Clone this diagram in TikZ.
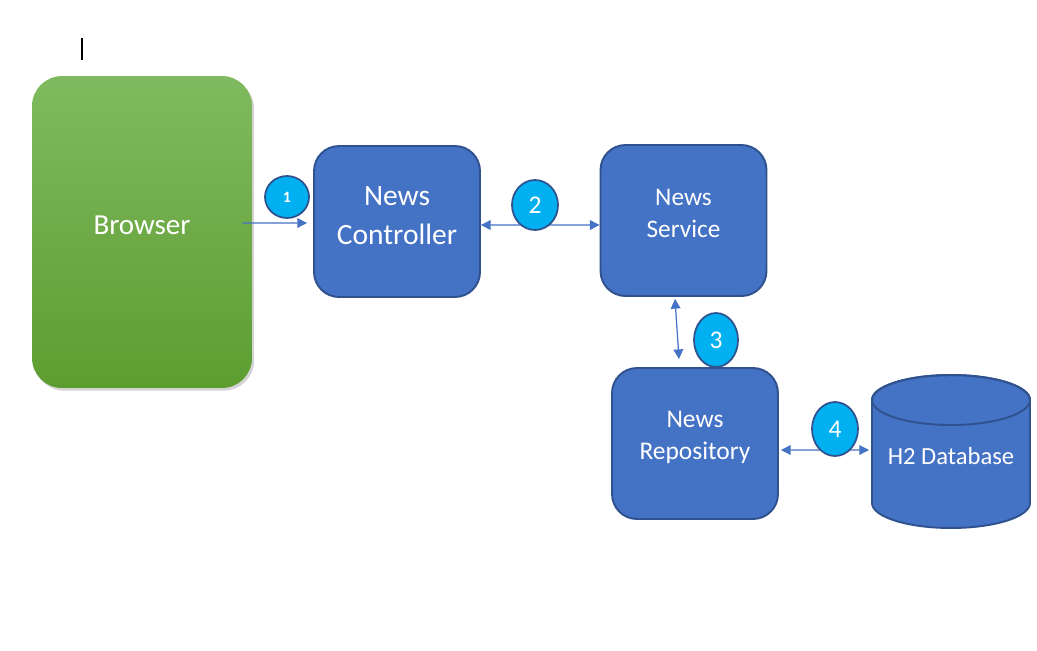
\documentclass[tikz,border=0pt]{standalone}
\usepackage{fontspec}
\setmainfont{Carlito}
\usepackage{tikz}
\usetikzlibrary{arrows.meta,shapes,shadows,positioning}
\definecolor{boxblue}{HTML}{4472C4}
\definecolor{boxedge}{HTML}{2F528F}
\definecolor{stepcyan}{HTML}{00B0F0}
\definecolor{greentop}{RGB}{128,186,96}
\definecolor{greenbot}{RGB}{93,157,48}
\tikzset{
  layer/.style={draw=boxedge, fill=boxblue, line width=1.1pt, rounded corners=0.5cm,
    minimum width=3.32cm, minimum height=3.02cm},
  layertext/.style={text=white, align=center},
  stepmark/.style={ellipse, draw=boxedge, fill=stepcyan, line width=1pt, text=white, inner sep=0pt},
  flow/.style={draw=boxblue, line width=0.7pt, -{Triangle[length=5.5pt,width=5.5pt]}},
  flowboth/.style={flow, {Triangle[length=5.5pt,width=5.5pt]}-{Triangle[length=5.5pt,width=5.5pt]}}
}

\begin{document}
\begin{tikzpicture}[x=0.02cm,y=-0.02cm]
		\useasboundingbox (0,0) rectangle (1037,650);
		% text cursor
		\draw[black,line width=0.6pt] (82,38) -- (82,60);
		
		% browser
		\node (browser) [rounded corners=0.6cm, minimum width=4.4cm, minimum height=6.24cm,
		  top color=greentop, bottom color=greenbot, draw=none,
		  drop shadow={opacity=0.35, shadow xshift=1.2pt, shadow yshift=-1.5pt}] at (142,232) {};
		\node [layertext, font=\fontsize{16.5}{19}\selectfont] at ([yshift=0.13cm]browser) {Browser};
		
		% layers
		\node (ctrl) [layer] at (397,221.5) {};
		\node (svc) [layer] at (683.5,220.5) {};
		\node (repo) [layer] at (695,443.5) {};
		\node [layertext, font=\fontsize{16.8}{22.3}\selectfont] at ([yshift=0.12cm]ctrl) {News\\Controller};
		\node [layertext, font=\fontsize{14.4}{18.5}\selectfont] at ([yshift=0.14cm]svc) {News\\Service};
		\node [layertext, font=\fontsize{14.5}{18.5}\selectfont] at ([yshift=0.12cm]repo) {News\\Repository};
		
		% database
		\filldraw[fill=boxblue, draw=boxedge, line width=1.1pt] (872,400) -- (872,503)
		  arc[start angle=180, end angle=360, x radius=1.58cm, y radius=0.5cm] -- (1030,400)
		  arc[start angle=0, end angle=180, x radius=1.58cm, y radius=0.5cm] -- cycle;
		\draw[boxedge, line width=1.1pt] (951,400) ellipse [x radius=1.58cm, y radius=0.5cm];
		\node (db) [text=white, font=\fontsize{14}{17}\selectfont] at (951,456) {H2 Database};
		\coordinate (dbw) at (869,450);
		
		% connectors
		\draw[flow] ([xshift=-0.2cm,yshift=0.18cm]browser.east) -- ([xshift=-0.12cm,yshift=-0.03cm]ctrl.west);
		\draw[flowboth] ([yshift=-0.07cm]ctrl.east) -- ([yshift=-0.09cm]svc.west);
		\draw[flowboth] ([xshift=-0.17cm,yshift=-0.04cm]svc.south) -- ([xshift=-0.32cm,yshift=0.16cm]repo.north);
		\draw[flowboth] ([xshift=0.04cm,yshift=-0.13cm]repo.east) -- (dbw);
		
		% step numbers
		\node (n1) [stepmark, minimum width=0.88cm, minimum height=0.84cm, font=\fontsize{9}{10}\bfseries] at (287,197) {1};
		\foreach \name/\x/\y/\w/\h/\t in {n2/535/205/0.92/1.0/2, n3/716/340/0.88/1.08/3, n4/835/429/0.92/1.08/4}
		\node (\name) [stepmark, minimum width=\w cm, minimum height=\h cm, font=\fontsize{14.5}{16}\selectfont] at (\x,\y) {\t};
\end{tikzpicture}
\end{document}
